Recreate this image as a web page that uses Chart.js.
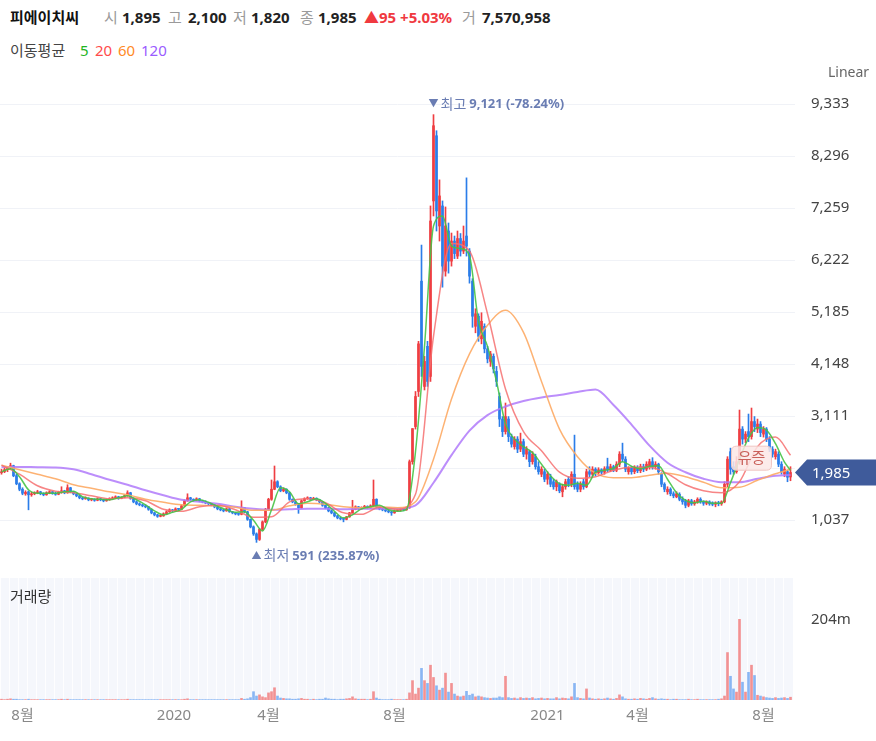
<!DOCTYPE html>
<html lang="ko">
<head>
<meta charset="utf-8">
<title>피에이치씨 일봉</title>
<script src="https://cdn.jsdelivr.net/npm/chart.js@4.4.1/dist/chart.umd.min.js"></script>
<style>
    html, body { margin: 0; padding: 0; background: #fff; }
    body {
        position: relative; width: 876px; height: 741px; overflow: hidden;
        font-family: "Noto Sans", "Noto Sans CJK KR", sans-serif; color: #222;
    }
    .txt { position: absolute; white-space: nowrap; font-size: 15px; line-height: 18px; }
    .bold { font-weight: bold; }
    .grey { color: #9a9a9a; }
    #priceBox { position: absolute; left: 0; top: 62px; width: 876px; height: 513px; }
    #volumeBox { position: absolute; left: 0; top: 575px; width: 876px; height: 166px; }
</style>
</head>
<body>
<div id="priceBox"><canvas id="priceChart"></canvas></div>
<div id="volumeBox"><canvas id="volumeChart"></canvas></div>

<!-- header -->
<div class="txt bold" style="left:10px;top:8px;color:#111">피에이치씨</div>
<div class="txt grey" style="left:104px;top:8px">시</div>
<div class="txt bold" style="left:122px;top:8px">1,895</div>
<div class="txt grey" style="left:168px;top:8px">고</div>
<div class="txt bold" style="left:188px;top:8px">2,100</div>
<div class="txt grey" style="left:233px;top:8px">저</div>
<div class="txt bold" style="left:251px;top:8px">1,820</div>
<div class="txt grey" style="left:300px;top:8px">종</div>
<div class="txt bold" style="left:318px;top:8px">1,985</div>
<div class="txt bold" style="left:364px;top:8px;color:#f0393f">▲95 +5.03%</div>
<div class="txt grey" style="left:462px;top:8px">거</div>
<div class="txt bold" style="left:482px;top:8px">7,570,958</div>

<div class="txt" style="left:10px;top:41px;color:#444">이동평균</div>
<div class="txt" style="left:80px;top:41px;color:#1fb51f">5</div>
<div class="txt" style="left:95px;top:41px;color:#ff4b4b">20</div>
<div class="txt" style="left:118px;top:41px;color:#ff8a26">60</div>
<div class="txt" style="left:141px;top:41px;color:#9a5cff">120</div>

<div class="txt" style="left:828px;top:63px;font-size:14px;color:#666">Linear</div>
<div class="txt" style="left:10px;top:587px;color:#333">거래량</div>

<script>
// ===== DATA (2-day candles, KRW) =====
var opens = [
    1980,2000,2040,2080,2120,1920,1760,1650,1560,1600,1540,1560,
    1580,1600,1560,1540,1580,1600,1570,1550,1590,1620,1580,1680,
    1600,1560,1520,1480,1460,1470,1440,1450,1430,1460,1440,1420,
    1440,1460,1480,1500,1470,1490,1520,1580,1470,1400,1360,1340,
    1320,1300,1250,1180,1140,1110,1120,1160,1200,1240,1220,1260,
    1250,1320,1420,1480,1450,1430,1460,1420,1400,1380,1360,1340,
    1300,1260,1240,1220,1260,1200,1180,1160,1150,1280,1200,1050,
    900,760,650,850,1000,1250,1450,1650,1800,1700,1620,1650,
    1580,1450,1400,1350,1280,1420,1460,1480,1450,1470,1440,1400,
    1330,1280,1220,1180,1120,1080,1060,1050,1100,1180,1250,1300,
    1260,1290,1310,1280,1320,1450,1300,1260,1240,1220,1200,1180,
    1220,1230,1250,1240,1280,2200,2900,3600,5800,3700,4500,3900,
    7400,8700,6900,7300,6000,6800,6200,6600,6300,6650,6400,6700,
    6400,5800,4900,5100,4650,4900,4450,4200,4300,4000,3500,3050,
    2800,3050,2700,2500,2650,2450,2600,2350,2400,2200,2300,2100,
    1950,2000,1850,1900,1800,1700,1750,1600,1700,1850,1750,1950,
    1750,1650,1800,1700,2000,1950,2050,1980,2040,1990,2100,2030,
    2100,2030,2150,2350,2250,2000,2080,2000,2080,2020,2100,2050,
    2100,2200,2100,2150,1950,1750,1600,1650,1560,1500,1550,1450,
    1420,1330,1420,1360,1400,1450,1400,1370,1400,1380,1350,1380,
    1360,1400,1750,2400,2100,2000,2200,2850,2650,2800,2700,3000,
    2850,2950,2750,2850,2650,2450,2300,2350,2150,1950,2000,1895
];
var highs = [
    2050,2080,2100,2170,2130,1950,1780,1680,1620,1620,1590,1600,
    1630,1610,1580,1600,1620,1610,1590,1610,1700,1630,1740,1690,
    1610,1570,1530,1490,1500,1480,1470,1460,1480,1470,1450,1460,
    1480,1500,1520,1510,1500,1540,1620,1590,1480,1420,1380,1350,
    1340,1310,1260,1190,1150,1140,1180,1220,1260,1250,1280,1270,
    1340,1440,1560,1490,1460,1480,1470,1430,1420,1390,1370,1350,
    1310,1280,1250,1280,1270,1210,1190,1170,1420,1290,1210,1060,
    920,780,870,1020,1270,1470,1835,2114,1820,1720,1680,1660,
    1590,1460,1410,1360,1440,1480,1500,1490,1490,1480,1450,1410,
    1340,1290,1230,1190,1130,1090,1070,1110,1190,1430,1320,1310,
    1300,1330,1320,1340,1835,1460,1310,1270,1250,1230,1210,1240,
    1250,1270,1260,1300,2234,2860,3600,4600,6520,4300,4600,7300,
    9121,8800,7820,7400,7280,6960,6760,6700,6800,6750,6900,7860,
    6450,5850,5250,5150,5170,4950,4500,4400,4350,4100,3570,3100,
    3370,3100,2750,2700,2700,2770,2650,2500,2430,2400,2350,2200,
    2100,2050,2000,1950,1850,1835,1780,1750,1850,1900,2000,2730,
    1800,1800,1850,2050,2100,2100,2080,2080,2060,2100,2270,2150,
    2130,2200,2400,2570,2300,2100,2100,2120,2120,2150,2150,2200,
    2250,2280,2200,2170,1980,1780,1700,1680,1600,1600,1580,1500,
    1450,1450,1450,1430,1480,1480,1420,1420,1420,1400,1400,1410,
    1420,1800,2300,2470,2200,2300,3230,2900,2800,3150,3270,3100,
    3050,3000,2900,2880,2700,2500,2450,2400,2200,2100,2030,2100
];
var lows = [
    1950,1980,2000,2050,1900,1740,1620,1540,1530,1240,1510,1540,
    1560,1540,1520,1530,1560,1550,1530,1540,1570,1560,1570,1580,
    1540,1500,1460,1440,1450,1420,1420,1410,1420,1420,1400,1410,
    1430,1450,1470,1450,1460,1480,1510,1450,1380,1340,1320,1300,
    1280,1230,1160,1120,1090,1100,1110,1150,1190,1200,1210,1230,
    1240,1310,1410,1430,1410,1420,1400,1380,1360,1340,1320,1280,
    1240,1220,1200,1210,1190,1160,1140,1130,1140,1180,1030,880,
    730,591,630,830,980,1230,1430,1640,1680,1600,1600,1560,
    1430,1380,1330,1170,1270,1410,1450,1430,1440,1420,1380,1310,
    1260,1200,1160,1100,1060,1040,1000,1040,1090,1170,1240,1240,
    1250,1280,1260,1270,1310,1280,1240,1220,1200,1180,1130,1170,
    1210,1220,1220,1230,1270,2150,2850,3500,3900,3630,3700,3800,
    7100,6800,6600,5680,5900,5960,6100,6250,6250,6300,6350,6300,
    5760,4880,4770,4600,4550,4370,4170,4100,3970,3700,2900,2700,
    2750,2600,2490,2450,2380,2400,2300,2250,2100,2150,2050,1950,
    1900,1800,1750,1700,1650,1620,1580,1500,1650,1700,1700,1650,
    1600,1600,1650,1680,1900,1900,1920,1930,1950,1950,2000,2000,
    2000,2000,2100,2200,2000,1950,1950,1960,1980,1980,2000,2020,
    2050,2050,2050,1950,1700,1600,1550,1520,1480,1480,1420,1350,
    1280,1300,1330,1330,1370,1370,1330,1340,1330,1320,1300,1320,
    1330,1380,1700,1950,1950,1970,2150,2550,2580,2600,2650,2800,
    2780,2700,2690,2600,2400,2290,2250,2100,1950,1900,1800,1820
];
var closes = [
    2000,2040,2080,2120,1920,1760,1650,1570,1590,1540,1560,1580,
    1600,1560,1540,1580,1600,1570,1550,1590,1620,1580,1680,1600,
    1560,1520,1480,1460,1470,1440,1450,1430,1460,1440,1420,1440,
    1460,1480,1500,1470,1490,1520,1580,1470,1400,1360,1340,1320,
    1300,1250,1180,1140,1110,1120,1160,1200,1240,1220,1260,1250,
    1320,1420,1480,1450,1430,1460,1420,1400,1380,1360,1340,1300,
    1260,1240,1220,1260,1200,1180,1160,1150,1280,1200,1050,900,
    760,650,850,1000,1250,1450,1650,1800,1700,1620,1650,1580,
    1450,1400,1350,1280,1420,1460,1480,1450,1470,1440,1400,1330,
    1280,1220,1180,1120,1080,1060,1050,1100,1180,1250,1300,1260,
    1290,1310,1280,1320,1450,1300,1260,1240,1220,1200,1180,1220,
    1230,1250,1240,1280,2200,2860,3500,4550,4100,4200,3800,7000,
    8900,7200,7500,6100,6900,6200,6600,6350,6650,6400,6600,6500,
    5900,5100,5150,4700,5000,4450,4250,4350,4050,3800,3050,2800,
    3100,2700,2550,2650,2450,2600,2350,2450,2200,2350,2100,2000,
    2050,1850,1950,1750,1700,1800,1620,1700,1800,1750,1950,1700,
    1650,1750,1700,2000,1950,2050,1980,2040,1990,2060,2030,2100,
    2030,2150,2350,2250,2050,2080,2000,2080,2020,2100,2050,2150,
    2200,2100,2150,2000,1750,1650,1650,1560,1520,1560,1450,1400,
    1330,1420,1360,1400,1450,1400,1370,1400,1360,1350,1380,1360,
    1400,1750,2250,2050,2000,2200,2850,2650,2750,2700,3000,2900,
    2950,2780,2850,2650,2450,2350,2400,2150,2000,2050,1890,1985
];
// 거래량 (백만주)
var volumes = [
    2,1,2,3,2,2,1,1,1,2,1,1,
    1,1,1,1,1,1,1,1,2,1,2,1,
    1,1,1,1,1,1,1,1,1,1,1,1,
    1,1,1,1,1,1,2,1,1,1,1,1,
    1,1,1,1,1,1,1,1,1,1,1,1,
    1,2,3,1,1,1,1,1,1,1,1,1,
    1,1,1,1,1,1,1,1,4,2,3,6,
    21,10,13,8,6,18,21,31,10,5,4,3,
    3,2,2,3,4,2,2,1,2,1,2,2,
    5,3,2,2,1,2,2,3,4,8,3,2,
    2,2,1,2,21,5,2,1,1,1,2,1,
    1,1,1,2,18,49,15,30,80,49,42,88,
    57,36,25,30,68,20,42,15,10,8,10,22,
    12,15,8,10,8,6,5,4,5,5,8,6,
    60,6,4,5,3,6,4,5,4,6,3,4,
    5,3,4,3,3,6,3,5,4,3,8,42,
    6,4,3,28,5,3,2,3,2,3,5,3,
    2,4,13,8,3,2,2,3,2,4,3,2,
    4,6,3,2,3,2,2,1,2,2,1,1,
    1,2,1,1,2,1,1,1,1,1,1,2,
    3,10,120,60,28,20,204,45,20,70,88,62,
    12,10,8,6,5,4,6,4,5,6,4,7
];

// moving averages (one value every few candles)
var ma5Step = 3;
var ma5 = [
    2000,2060,1900,1640,1570,1570,1570,1600,1610,1500,
    1460,1450,1440,1480,1520,1440,1340,1220,1140,1190,
    1250,1400,1440,1390,1310,1240,1190,1200,1030,820,
    1240,1680,1600,1360,1400,1460,1370,1210,1080,1140,
    1260,1300,1330,1240,1210,1250,2400,4500,6900,7100,
    6500,6450,6300,5000,4500,3800,2950,2650,2500,2380,
    2150,1920,1760,1730,1770,1730,1990,2030,2070,2200,
    2110,2060,2110,2120,1850,1580,1430,1380,1410,1370,
    1370,1780,2250,2670,2880,2830,2560,2190,2030
];
var maStep = 6;
var ma20 = [
    2130,1950,1720,1610,1580,1520,1460,1480,1420,1250,
    1210,1300,1330,1240,1090,1100,1400,1460,1380,1180,
    1150,1290,1250,1550,4700,6550,6400,5150,3650,2800,
    2420,1990,1870,1900,2030,2090,2090,1960,1740,1620,
    1580,1800,2500,2690,2330
];
var ma60 = [
    2130,2040,1950,1860,1740,1670,1600,1540,1450,1390,
    1340,1330,1320,1290,1230,1230,1320,1370,1350,1300,
    1280,1300,1280,1400,2250,3450,4350,4920,5220,4780,
    3800,2850,2300,1970,1880,1880,1930,1970,1900,1790,
    1680,1690,1830,1960,2050
];
var ma120 = [
    2094,2094,2090,2085,2050,1950,1840,1740,1630,1530,
    1440,1400,1360,1300,1260,1240,1250,1260,1260,1250,
    1260,1260,1265,1330,1780,2330,2820,3130,3300,3410,
    3480,3530,3590,3640,3330,2940,2520,2180,1990,1860,
    1790,1790,1860,1920,1935
];

var priceTicks = [1037, 2074, 3111, 4148, 5185, 6222, 7259, 8296, 9333];
var volumeTicks = [204];
var monthTickPos = [7, 57.5, 89, 131, 182, 212, 254];
var monthTickText = ['8월', '2020', '4월', '8월', '2021', '4월', '8월'];

var eventIdx = [250];
var eventPrice = [2270];
var eventText = ['유증'];

// ===== SETUP =====
var FONT = '"Noto Sans", "Noto Sans CJK KR", sans-serif';
Chart.defaults.font.family = FONT;
Chart.defaults.font.size = 15;

var lastIdx = closes.length - 1;
var UP = '#ef3e42', DOWN = '#2b7de9';
var candleColors = closes.map(function (c, i) { return c >= opens[i] ? UP : DOWN; });
var volumeColors = closes.map(function (c, i) { return c >= opens[i] ? 'rgba(240,120,120,0.8)' : 'rgba(110,165,240,0.8)'; });

function maPoints(values, step) {
    return values.map(function (v, k) { return { x: Math.min(k * step, lastIdx), y: v }; });
}

function fixedAxis(width) {
    return function (scale) {
        if (width) scale.width = width;
        scale.paddingTop = 0; scale.paddingBottom = 0;
        scale.paddingLeft = 0; scale.paddingRight = 0;
    };
}

var xBase = { type: 'linear', min: -0.5, max: 264.5, offset: false };

function maLine(label, values, step, color, width) {
    return {
        type: 'line', label: label, data: maPoints(values, step),
        borderColor: color, borderWidth: width, pointRadius: 0,
        cubicInterpolationMode: 'monotone', order: 0
    };
}

// ===== DECORATION PLUGINS =====
function drawExtreme(ctx, x, y, arrow, label, value, pct) {
    ctx.save();
    ctx.fillStyle = '#6a7db3';
    ctx.textBaseline = 'middle';
    ctx.textAlign = 'center';
    ctx.font = '10px ' + FONT;
    ctx.fillText(arrow, x, y);
    ctx.textAlign = 'left';
    ctx.font = '14px ' + FONT;
    ctx.fillText(label, x + 7, y);
    var w = ctx.measureText(label).width;
    ctx.font = 'bold 13px ' + FONT;
    ctx.fillText(value.toLocaleString('en-US') + ' (' + pct.toFixed(2) + '%)', x + 10 + w, y);
    ctx.restore();
}

function roundRect(ctx, x, y, w, h, r) {
    ctx.beginPath();
    ctx.moveTo(x + r, y);
    ctx.lineTo(x + w - r, y); ctx.quadraticCurveTo(x + w, y, x + w, y + r);
    ctx.lineTo(x + w, y + h - r); ctx.quadraticCurveTo(x + w, y + h, x + w - r, y + h);
    ctx.lineTo(x + r, y + h); ctx.quadraticCurveTo(x, y + h, x, y + h - r);
    ctx.lineTo(x, y + r); ctx.quadraticCurveTo(x, y, x + r, y);
    ctx.closePath();
}

var priceDecor = {
    id: 'priceDecor',
    afterDraw: function (chart) {
        var ctx = chart.ctx, xs = chart.scales.x, ys = chart.scales.y;
        var last = closes[lastIdx];

        var hi = Math.max.apply(null, highs), hiIdx = highs.indexOf(hi);
        var lo = Math.min.apply(null, lows), loIdx = lows.indexOf(lo);
        drawExtreme(ctx, xs.getPixelForValue(hiIdx), ys.getPixelForValue(hi) - 10, '▼', '최고', hi, (last - hi) / hi * 100);
        drawExtreme(ctx, xs.getPixelForValue(loIdx), ys.getPixelForValue(lo) + 14, '▲', '최저', lo, (last - lo) / lo * 100);

        // event label
        eventIdx.forEach(function (idx, k) {
            var ex = xs.getPixelForValue(idx), ey = ys.getPixelForValue(eventPrice[k]);
            ctx.save();
            roundRect(ctx, ex - 20, ey - 12, 40, 24, 5);
            ctx.fillStyle = 'rgba(252,232,230,0.85)';
            ctx.fill();
            ctx.strokeStyle = '#f0c6c2';
            ctx.lineWidth = 1;
            ctx.stroke();
            ctx.fillStyle = '#c9605a';
            ctx.font = '15px ' + FONT;
            ctx.textAlign = 'center';
            ctx.textBaseline = 'middle';
            ctx.fillText(eventText[k], ex, ey + 1);
            ctx.restore();
        });

        // last price tag
        var ty = ys.getPixelForValue(last);
        var left = chart.chartArea.right;
        ctx.save();
        ctx.fillStyle = '#3f5b9b';
        ctx.beginPath();
        ctx.moveTo(left, ty);
        ctx.lineTo(left + 12, ty - 13);
        ctx.lineTo(chart.width, ty - 13);
        ctx.lineTo(chart.width, ty + 13);
        ctx.lineTo(left + 12, ty + 13);
        ctx.closePath();
        ctx.fill();
        ctx.fillStyle = '#fff';
        ctx.font = '15px ' + FONT;
        ctx.textAlign = 'left';
        ctx.textBaseline = 'middle';
        ctx.fillText(last.toLocaleString('en-US'), left + 17, ty + 1);
        ctx.restore();
    }
};

var volumeBg = {
    id: 'volumeBg',
    beforeDatasetsDraw: function (chart) {
        var a = chart.chartArea, ctx = chart.ctx, xs = chart.scales.x;
        ctx.save();
        ctx.fillStyle = '#f5f7fc';
        ctx.fillRect(a.left, a.top, a.right - a.left - 2, a.bottom - a.top);
        ctx.strokeStyle = 'rgba(255,255,255,0.85)';
        ctx.lineWidth = 1;
        for (var i = 0; i < closes.length; i += 3) {
            var x = Math.round(xs.getPixelForValue(i - 0.5)) + 0.5;
            ctx.beginPath();
            ctx.moveTo(x, a.top);
            ctx.lineTo(x, a.bottom);
            ctx.stroke();
        }
        ctx.restore();
    }
};

// ===== PRICE CHART =====
new Chart(document.getElementById('priceChart').getContext('2d'), {
    type: 'bar',
    data: {
        datasets: [
            maLine('MA5', ma5, ma5Step, 'rgba(70,195,70,0.9)', 1.5),
            maLine('MA20', ma20, maStep, 'rgba(246,112,112,0.85)', 1.5),
            maLine('MA60', ma60, maStep, 'rgba(253,170,100,0.9)', 1.5),
            maLine('MA120', ma120, maStep, 'rgba(176,122,250,0.85)', 2),
            {
                label: 'wick',
                data: lows.map(function (l, i) { return { x: i, y: [l, highs[i]] }; }),
                backgroundColor: candleColors,
                barThickness: 1, grouped: false, order: 2
            },
            {
                label: 'body',
                data: opens.map(function (o, i) { return { x: i, y: [o, closes[i]] }; }),
                backgroundColor: candleColors,
                barThickness: 2, minBarLength: 1, grouped: false, order: 1
            }
        ]
    },
    options: {
        responsive: true,
        maintainAspectRatio: false,
        animation: false,
        events: [],
        layout: { padding: 0 },
        plugins: { legend: { display: false }, tooltip: { enabled: false } },
        scales: {
            x: Object.assign({}, xBase, { display: false }),
            y: {
                position: 'right',
                min: -59.8,
                max: 10170.6,
                afterFit: fixedAxis(81),
                afterBuildTicks: function (s) { s.ticks = priceTicks.map(function (v) { return { value: v }; }); },
                ticks: {
                    padding: 16, color: '#444', font: { size: 15 },
                    callback: function (v) { return Number(v).toLocaleString('en-US'); }
                },
                grid: { color: '#f0f2f7', drawTicks: false },
                border: { display: false }
            }
        }
    },
    plugins: [priceDecor]
});

// ===== VOLUME CHART =====
new Chart(document.getElementById('volumeChart').getContext('2d'), {
    type: 'bar',
    data: {
        datasets: [{
            label: '거래량',
            data: volumes.map(function (v, i) { return { x: i, y: v }; }),
            backgroundColor: volumeColors,
            barThickness: 2, grouped: false
        }]
    },
    options: {
        responsive: true,
        maintainAspectRatio: false,
        animation: false,
        events: [],
        layout: { padding: { top: 3, bottom: 9 } },
        plugins: { legend: { display: false }, tooltip: { enabled: false } },
        scales: {
            x: Object.assign({}, xBase, {
                afterFit: fixedAxis(0),
                afterBuildTicks: function (s) { s.ticks = monthTickPos.map(function (v) { return { value: v }; }); },
                ticks: {
                    autoSkip: false, maxRotation: 0, padding: 7, color: '#888', font: { size: 15 },
                    callback: function (v, i) { return monthTickText[i]; }
                },
                grid: { display: false, drawTicks: false },
                border: { display: false }
            }),
            y: {
                position: 'right',
                min: 0,
                max: 308.6,
                afterFit: fixedAxis(81),
                afterBuildTicks: function (s) { s.ticks = volumeTicks.map(function (v) { return { value: v }; }); },
                ticks: {
                    padding: 16, color: '#444', font: { size: 15 },
                    callback: function (v) { return v + 'm'; }
                },
                grid: { display: false, drawTicks: false },
                border: { display: false }
            }
        }
    },
    plugins: [volumeBg]
});
</script>
</body>
</html>
